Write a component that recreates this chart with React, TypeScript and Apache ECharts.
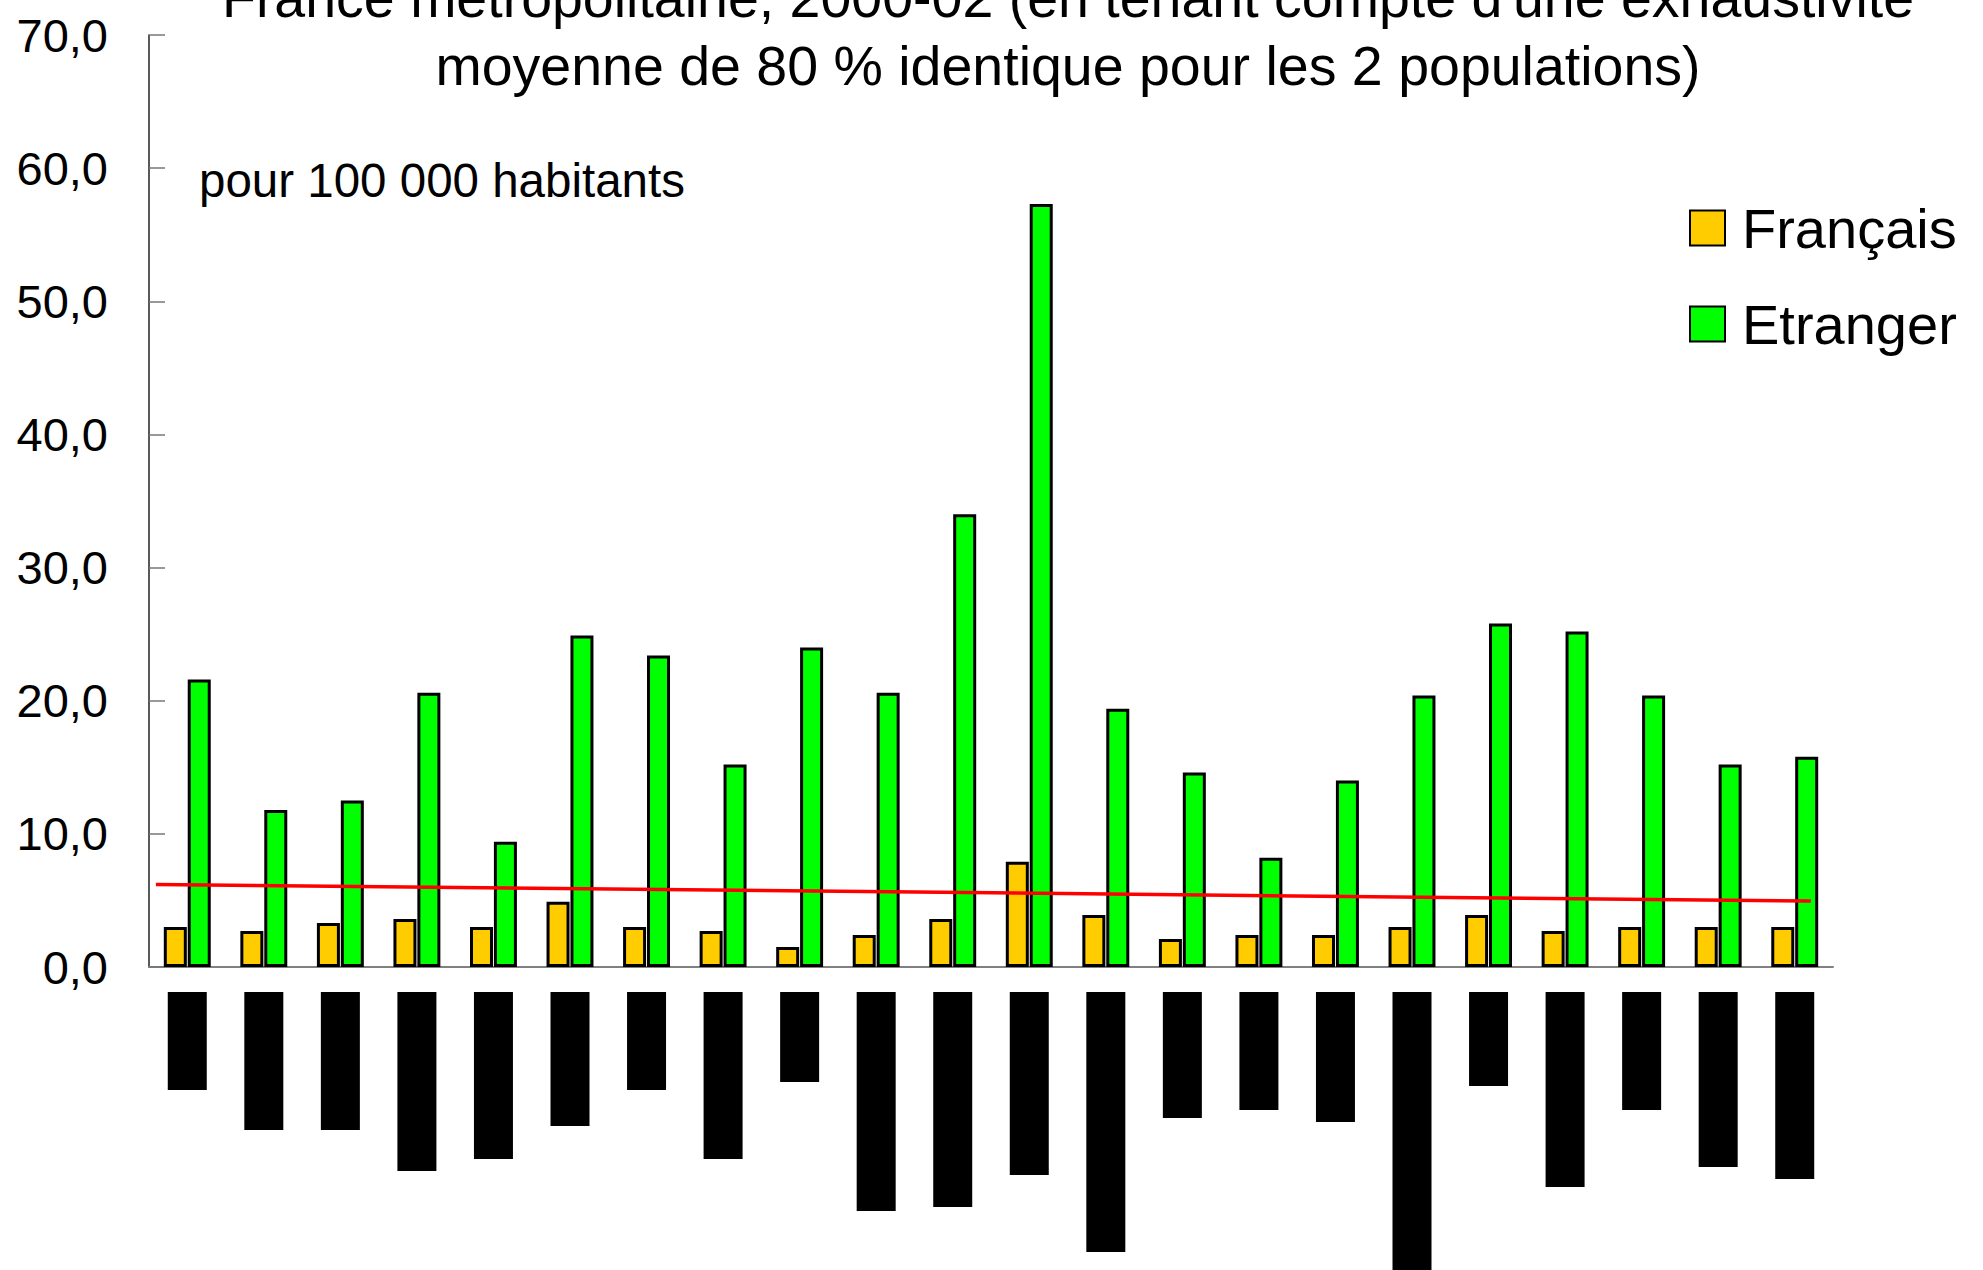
import React, { useEffect, useRef } from "react";
import * as echarts from "echarts";

// ---- data ----
const categories = [
  "R01", "R02", "R03", "R04", "R05", "R06", "R07", "R08", "R09", "R10", "R11",
  "R12", "R13", "R14", "R15", "R16", "R17", "R18", "R19", "R20", "R21", "R22",
];
const francais = [3.0, 2.7, 3.3, 3.6, 3.0, 4.9, 3.0, 2.7, 1.5, 2.4, 3.6, 7.9, 3.9, 2.1, 2.4, 2.4, 3.0, 3.9, 2.7, 3.0, 3.0, 3.0];
const etranger = [21.6, 11.8, 12.5, 20.6, 9.4, 24.9, 23.4, 15.2, 24.0, 20.6, 34.0, 57.3, 19.4, 14.6, 8.2, 14.0, 20.4, 25.8, 25.2, 20.4, 15.2, 15.8];
// trend line (start / end, x in category units)
const trendX = [0.09, 21.71];
const trendY = [6.2, 4.95];
const seriesNames = ["Français", "Etranger"];
const titleLines = [
  "France métropolitaine, 2000-02 (en tenant compte d'une exhaustivité",
  "moyenne de 80 % identique pour les 2 populations)",
];
const unitNote = "pour 100 000 habitants";
// redacted category labels: lengths of the black boxes (px)
const labelBoxLengths = [98, 138, 138, 179, 167, 134, 98, 167, 90, 219, 215, 183, 260, 126, 118, 130, 290, 94, 195, 118, 175, 187];

const FONT = '"Liberation Sans", Arial, Helvetica, sans-serif';

export default function App() {
  const ref = useRef<HTMLDivElement>(null);
  useEffect(() => {
    if (!ref.current) return;
    const chart = echarts.init(ref.current, null, { renderer: "svg" });
    const rich: Record<string, any> = {};
    labelBoxLengths.forEach((h, i) => {
      rich["b" + i] = { width: 39, height: h, lineHeight: h, backgroundColor: "#000", color: "#000" };
    });
    chart.setOption({
      animation: false,
      backgroundColor: "#fff",
      grid: { left: 149, right: 150, top: 35, bottom: 303, containLabel: false, outerBoundsMode: "none" },
      legend: {
        data: seriesNames,
        orient: "vertical",
        left: 1684,
        top: 195,
        itemWidth: 35,
        itemHeight: 35,
        itemGap: 40,
        icon: "rect",
        textStyle: { fontSize: 56, fontFamily: FONT, color: "#000", padding: [0, 0, 0, 12] },
      },
      graphic: [
        {
          type: "text",
          x: 1068,
          y: -2,
          style: { text: titleLines[0], font: "55.5px " + FONT, fill: "#000", align: "center", verticalAlign: "middle" },
        },
        {
          type: "text",
          x: 1068,
          y: 66,
          style: { text: titleLines[1], font: "55.5px " + FONT, fill: "#000", align: "center", verticalAlign: "middle" },
        },
        {
          type: "text",
          x: 199,
          y: 180,
          style: { text: unitNote, font: "47.5px " + FONT, fill: "#000", align: "left", verticalAlign: "middle" },
        },
      ],
      xAxis: [
        {
          type: "category",
          data: categories,
          axisLine: { lineStyle: { color: "#808080", width: 2 } },
          axisTick: { inside: true, length: 8, lineStyle: { color: "#808080", width: 1.5 } },
          axisLabel: {
            interval: 0,
            margin: 25,
            formatter: (_v: string, i: number) => "{b" + i + "| }",
            rich,
          },
        },
        { type: "value", min: 0, max: 22, show: false },
      ],
      yAxis: {
        type: "value",
        min: 0,
        max: 70,
        interval: 10,
        splitLine: { show: false },
        axisLine: { show: true, lineStyle: { color: "#222", width: 1.5 } },
        axisTick: { show: true, inside: true, length: 16, lineStyle: { color: "#777", width: 1.5 } },
        axisLabel: {
          fontSize: 47,
          fontFamily: FONT,
          color: "#000",
          margin: 41,
          padding: [0, 0, 10, 0],
          formatter: (v: number) => v.toFixed(1).replace(".", ","),
        },
      },
      series: [
        {
          name: seriesNames[0],
          type: "bar",
          data: francais,
          barWidth: 23,
          barGap: "4%",
          itemStyle: { color: "#FFCC00", borderColor: "#000", borderWidth: 3 },
        },
        {
          name: seriesNames[1],
          type: "bar",
          data: etranger,
          barWidth: 23,
          barGap: "4%",
          itemStyle: { color: "#00FF00", borderColor: "#000", borderWidth: 3 },
        },
        {
          name: "tendance",
          type: "line",
          xAxisIndex: 1,
          data: trendX.map((x, i) => [x, trendY[i]]),
          symbol: "none",
          lineStyle: { color: "#FF0000", width: 3.5 },
          z: 5,
        },
      ],
    });
    return () => chart.dispose();
  }, []);
  return <div ref={ref} style={{ position: "fixed", left: 0, top: 0, width: 1983, height: 1270 }} />;
}
